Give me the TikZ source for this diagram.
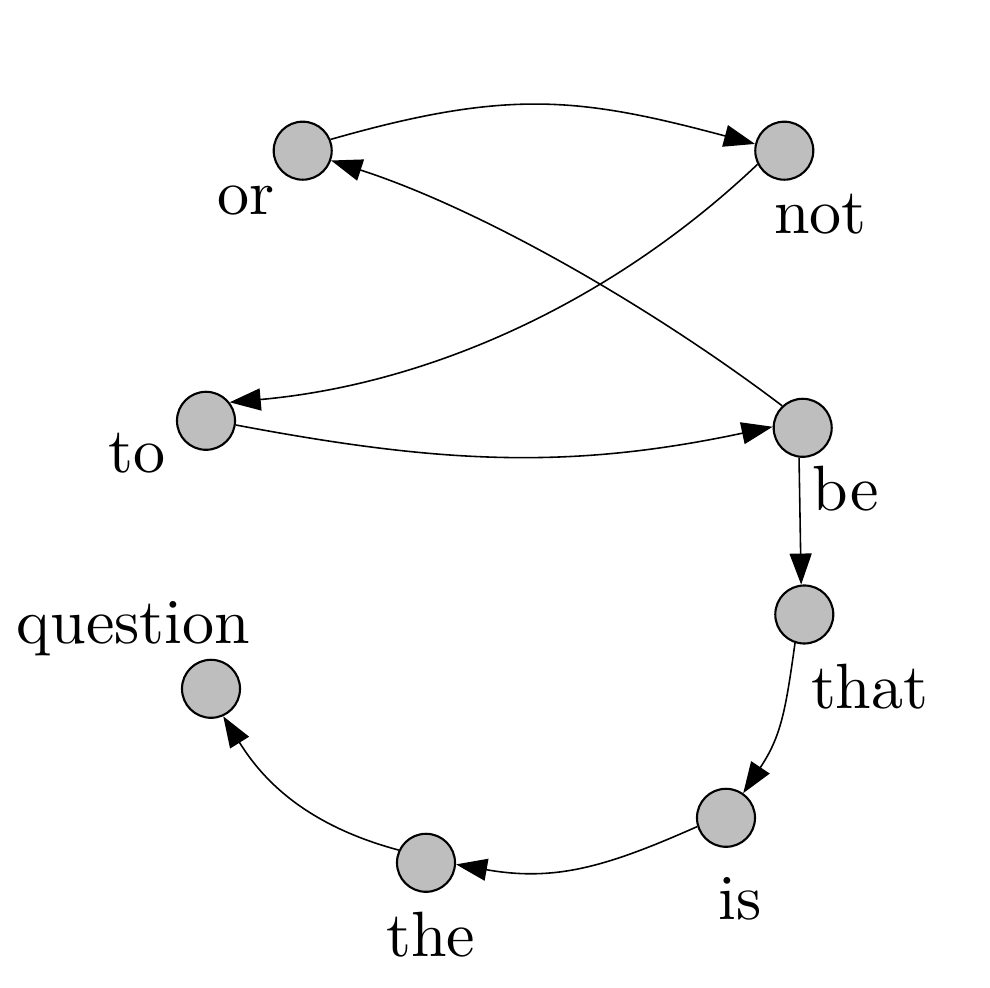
\documentclass[tikz,border=0pt]{standalone}
\usetikzlibrary{arrows.meta}
\definecolor{nodegray}{RGB}{190,190,190}
\begin{document}
\begin{tikzpicture}[x=0.01cm,y=-0.01cm,
  vtx/.style={circle,draw=black,fill=nodegray,line width=0.6pt,minimum size=0.58cm,inner sep=0pt},
  lbl/.style={anchor=base,inner sep=0pt},
  edge/.style={line width=0.45pt,-{Triangle[length=0.31cm,width=0.22cm]}}]
\useasboundingbox (0,0) rectangle (990,988);
\node[vtx] (or) at (302.7,150.7) {};
\node[vtx] (not) at (784.3,150.7) {};
\node[vtx] (to) at (206,420.8) {};
\node[vtx] (be) at (802.7,427.8) {};
\node[vtx] (that) at (804.3,614.5) {};
\node[vtx] (is) at (726,817.8) {};
\node[vtx] (the) at (426,862.8) {};
\node[vtx] (question) at (211,688.8) {};
\node[lbl] (lor) at (245.7,215) {\scalebox{1.82}{or}};
\node[lbl] (lnot) at (820.5,234) {\scalebox{1.82}{not}};
\node[lbl] (lto) at (136.7,472.7) {\scalebox{1.82}{to}};
\node[lbl] (lbe) at (845.8,510.7) {\scalebox{1.82}{be}};
\node[lbl] (lthat) at (869.7,708.3) {\scalebox{1.82}{that}};
\node[lbl] (lis) at (740.3,919.3) {\scalebox{1.82}{is}};
\node[lbl] (lthe) at (430.8,957) {\scalebox{1.82}{the}};
\node[lbl] (lquestion) at (133.5,643) {\scalebox{1.82}{question}};
\draw[edge] (or.22) .. controls (507.6,88.8) and (578.9,96.9) .. (not.167);
\draw[edge] (not.207) .. controls (611.7,302.6) and (429.8,384.3) .. (to.38);
\draw[edge] (to.352) .. controls (440.5,463.7) and (569.3,470) .. (be.178);
\draw[edge] (be.133) .. controls (653.9,308.7) and (483.9,210.1) .. (or.341);
\draw[edge] (be.263) -- (that.96);
\draw[edge] (that.252) .. controls (785.6,710.5) and (781.2,736.2) .. (is.55);
\draw[edge] (is.197) .. controls (605.3,867.4) and (554.5,881.7) .. (the.357);
\draw[edge] (the.155) .. controls (301.7,824.1) and (260.4,776.1) .. (question.294);
\end{tikzpicture}
\end{document}
